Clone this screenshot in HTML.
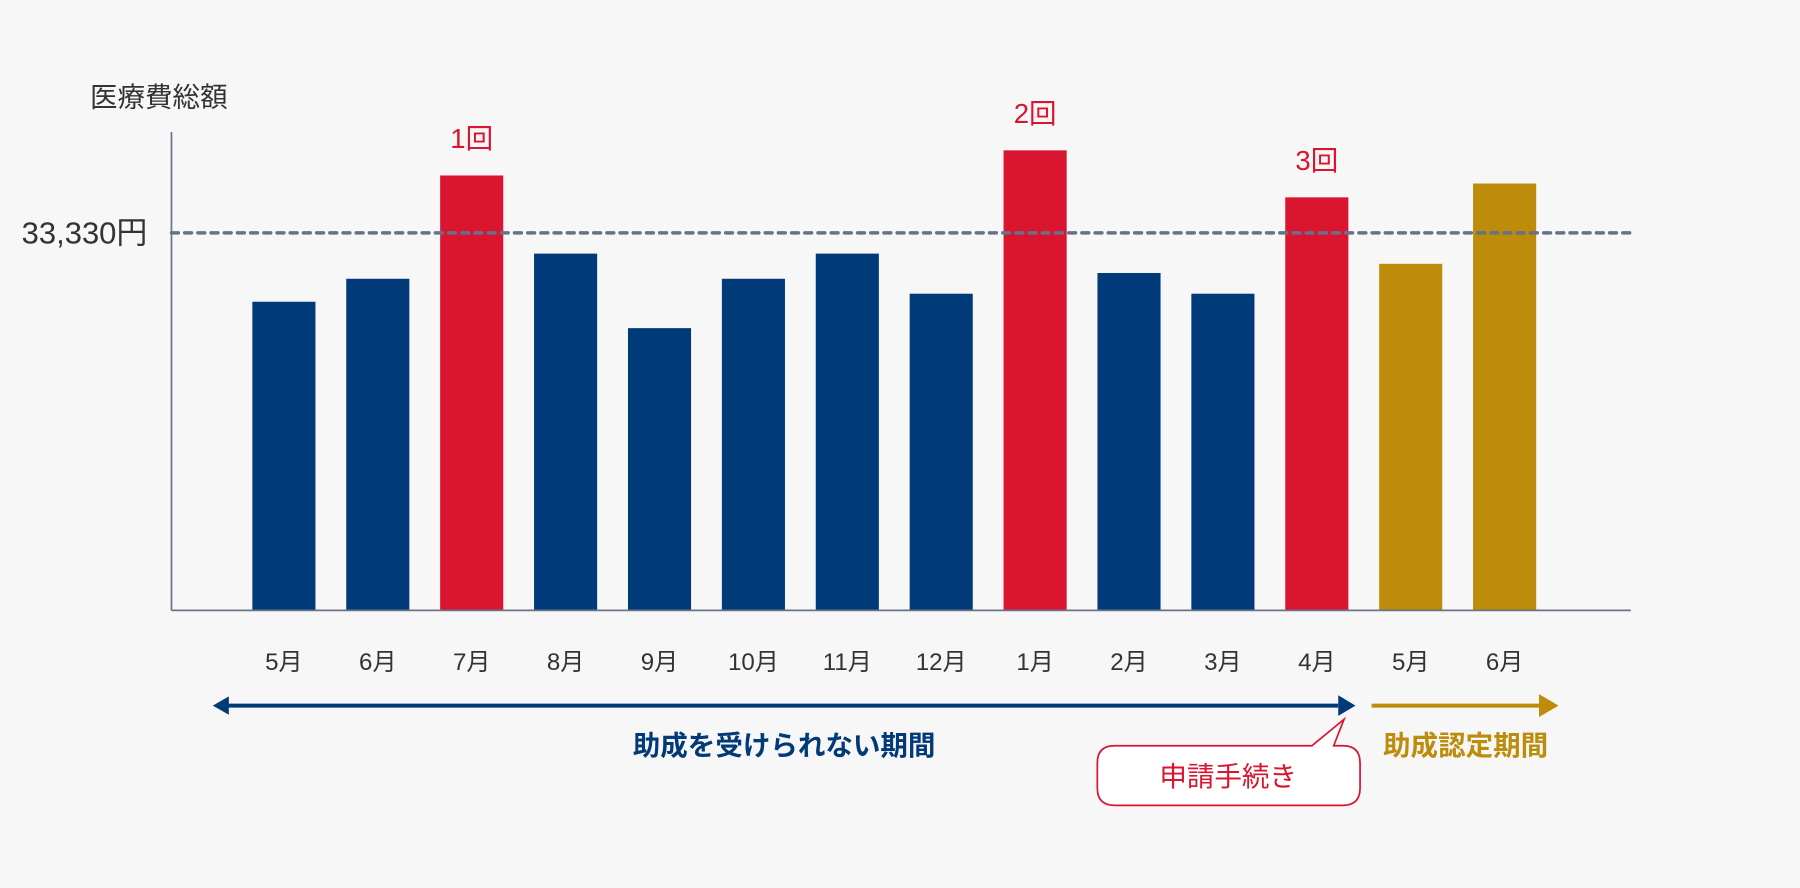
<!DOCTYPE html>
<html lang="ja"><head><meta charset="utf-8"><title>医療費総額</title>
<style>
html,body{margin:0;padding:0;background:#f7f7f7;}
svg{display:block;font-family:"Liberation Sans","Noto Sans CJK JP",sans-serif;}
</style></head>
<body>
<svg id="chart" width="1800" height="888" viewBox="0 0 1568 774" xmlns="http://www.w3.org/2000/svg">
<rect width="1568" height="774" fill="#f7f7f7"/>
<text x="78" y="93" font-size="24" fill="#333">医療費総額</text>
<g id="bars"></g>
<g id="labels"></g>
<line x1="149" y1="115" x2="149" y2="532" stroke="#6a7488" stroke-width="1.5"/>
<line x1="149" y1="532" x2="1421" y2="532" stroke="#6a7488" stroke-width="1.5"/>
<line id="refline" x1="149" x2="1421" stroke="#66718a" stroke-width="3" stroke-dasharray="6 5.5" stroke-linecap="round"/>
<text id="reflabel" x="128" font-size="27" fill="#333" text-anchor="end" dominant-baseline="central"></text>
<g>
<line x1="196" y1="615" x2="1166" y2="615" stroke="#003a78" stroke-width="3.5"/>
<polygon points="185,615 199,607 199,623" fill="#003a78"/>
<polygon points="1181,615 1166,606 1166,624" fill="#003a78"/>
</g>
<text x="683" y="658" font-size="24" font-weight="bold" fill="#003a78" text-anchor="middle">助成を受けられない期間</text>
<g>
<line x1="1195" y1="615" x2="1345" y2="615" stroke="#bc8c0a" stroke-width="3.5"/>
<polygon points="1358,615 1341,605 1341,625" fill="#bc8c0a"/>
</g>
<text x="1277" y="658" font-size="24" font-weight="bold" fill="#bc8c0a" text-anchor="middle">助成認定期間</text>
<path d="M971,650 H1143 L1171,627 L1162,650 H1170 Q1185,650 1185,665 V687 Q1185,702 1170,702 H971 Q956,702 956,687 V665 Q956,650 971,650 Z" fill="#fff" stroke="#d91530" stroke-width="1.5"/>
<text x="1070" y="685" font-size="24" fill="#d91530" text-anchor="middle">申請手続き</text>
</svg>
<script>
const categories = ["5月","6月","7月","8月","9月","10月","11月","12月","1月","2月","3月","4月","5月","6月"];
const values = [27250,29280,38400,31500,24920,29280,31500,27960,40620,29790,27960,36470,30600,37690];
const barTypes = ["normal","normal","claim","normal","normal","normal","normal","normal","claim","normal","normal","claim","eligible","eligible"];
const claimLabels = ["","","1回","","","","","","2回","","","3回","",""];
const referenceValue = 33330;
const referenceLabel = "33,330円";

const NS="http://www.w3.org/2000/svg";
const baseY=532, refY=203;
function y(v){return baseY-(v/referenceValue)*(baseY-refY);}
const firstC=247,lastC=1311;
function x(i){return firstC+i*(lastC-firstC)/(categories.length-1);}
const bw=55;
const colors={normal:"#003a78",claim:"#d91530",eligible:"#bc8c0a"};
const gb=document.getElementById('bars'), gl=document.getElementById('labels');
categories.forEach((c,i)=>{
  const r=document.createElementNS(NS,'rect');
  
  
  r.setAttribute('x',x(i)-bw/2);r.setAttribute('width',bw);
  r.setAttribute('y',y(values[i]));r.setAttribute('height',baseY-y(values[i]));
  r.setAttribute('fill',colors[barTypes[i]]);
  gb.appendChild(r);
  const t=document.createElementNS(NS,'text');
  
  
  t.setAttribute('x',x(i));t.setAttribute('y',584);
  t.setAttribute('font-size','21');t.setAttribute('fill','#333');t.setAttribute('text-anchor','middle');
  t.textContent=c;gl.appendChild(t);
  if(claimLabels[i]){
    const k=document.createElementNS(NS,'text');
    
    
    k.setAttribute('x',x(i));k.setAttribute('y',y(values[i])-24);
    k.setAttribute('font-size','24');k.setAttribute('fill','#d91530');k.setAttribute('text-anchor','middle');
    k.textContent=claimLabels[i];gb.appendChild(k);
  }
});
const rl=document.getElementById('refline');rl.setAttribute('y1',y(referenceValue));rl.setAttribute('y2',y(referenceValue));
const rt=document.getElementById('reflabel');rt.setAttribute('y',y(referenceValue));rt.textContent=referenceLabel;
</script>
</body></html>
